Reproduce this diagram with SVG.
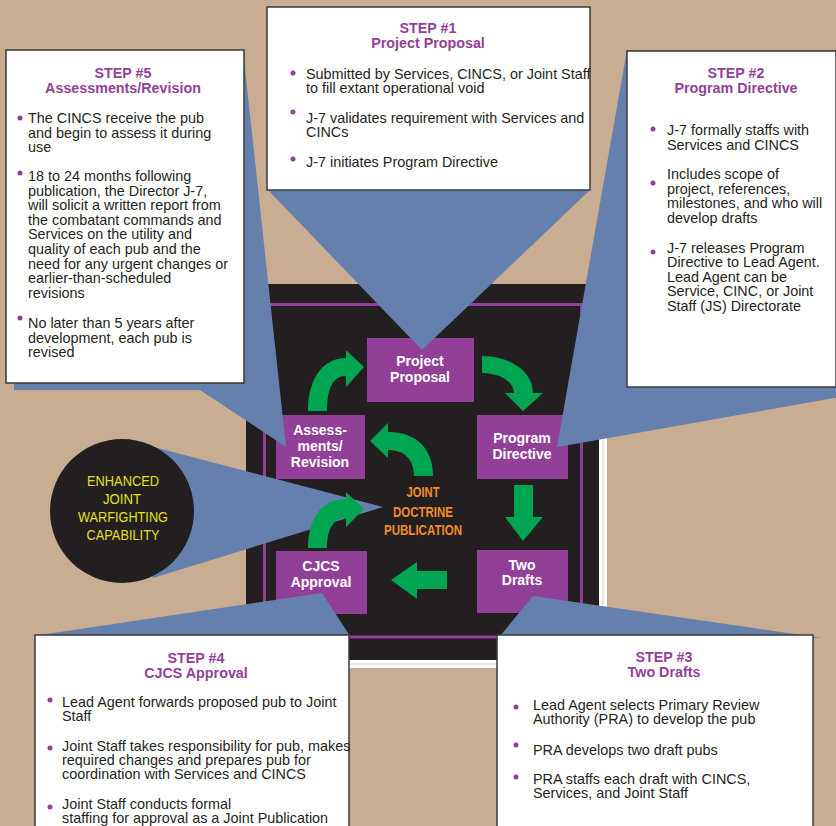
<svg xmlns="http://www.w3.org/2000/svg" width="836" height="826" viewBox="0 0 836 826">
<defs>
<style>
.bg{fill:#c8ad93}
.callout{fill:#6680ad}
.box{fill:#ffffff;stroke:#3a3a3a;stroke-width:1.5}
.node{fill:#923f98}
.ntext{font-family:"Liberation Sans",Arial,sans-serif;font-weight:bold;font-size:14px;fill:#ffffff;text-anchor:middle}
.title{font-family:"Liberation Sans",Arial,sans-serif;font-weight:bold;font-size:14.3px;fill:#923f98;text-anchor:middle}
.body{font-family:"Liberation Sans",Arial,sans-serif;font-size:14.4px;fill:#231f20}
.dot{fill:#923f98}
.arrow{fill:#00a551}
.center{font-family:"Liberation Sans",Arial,sans-serif;font-weight:bold;font-size:15px;fill:#f18b2a;text-anchor:middle}
.yel{font-family:"Liberation Sans",Arial,sans-serif;font-size:14px;fill:#e4e11c;text-anchor:middle}
</style>
</defs>
<rect class="bg" x="0" y="0" width="836" height="826"/>

<g id="frame">
<rect x="599" y="284" width="8" height="384" fill="#ffffff"/>
<line x1="603" y1="284" x2="603" y2="668" stroke="#cfcfcf" stroke-width="1"/>
<rect x="246" y="660" width="361" height="8" fill="#ffffff"/>
<line x1="246" y1="664" x2="607" y2="664" stroke="#cfcfcf" stroke-width="1"/>
<rect x="246" y="284" width="353" height="376" fill="#231f20"/>
<rect x="264.5" y="304.5" width="317" height="332.5" fill="none" stroke="#923f98" stroke-width="3"/>
</g>

<g id="node-project-proposal">
<rect class="node" x="367" y="338" width="107" height="64"/>
<text class="ntext"><tspan x="420" y="366">Project</tspan><tspan x="420" y="382">Proposal</tspan></text>
</g>
<g id="node-program-directive">
<rect class="node" x="477" y="415" width="91" height="64"/>
<text class="ntext"><tspan x="522" y="443">Program</tspan><tspan x="522" y="459">Directive</tspan></text>
</g>
<g id="node-two-drafts">
<rect class="node" x="477" y="550" width="91" height="63"/>
<text class="ntext"><tspan x="522" y="570">Two</tspan><tspan x="522" y="585">Drafts</tspan></text>
</g>
<g id="node-cjcs-approval">
<rect class="node" x="276" y="551" width="91" height="63"/>
<text class="ntext"><tspan x="321" y="571">CJCS</tspan><tspan x="321" y="587">Approval</tspan></text>
</g>
<g id="node-assessments">
<rect class="node" x="276" y="415" width="89" height="64"/>
<text class="ntext"><tspan x="320" y="435">Assess-</tspan><tspan x="320" y="451">ments/</tspan><tspan x="320" y="467">Revision</tspan></text>
</g>

<g id="step1">
<polygon class="callout" points="268,190 590,190 422,350"/>
<rect class="box" x="267" y="7" width="323" height="183"/>
<text class="title"><tspan x="428" y="33">STEP #1</tspan><tspan x="428" y="48">Project Proposal</tspan></text>
<circle class="dot" cx="293" cy="73" r="2.5"/>
<circle class="dot" cx="293" cy="112" r="2.5"/>
<circle class="dot" cx="293" cy="159" r="2.5"/>
<text class="body"><tspan x="306" y="79">Submitted by Services, CINCS, or Joint Staff</tspan><tspan x="306" y="93">to fill extant operational void</tspan><tspan x="306" y="123">J-7 validates requirement with Services and</tspan><tspan x="306" y="137">CINCs</tspan><tspan x="306" y="167">J-7 initiates Program Directive</tspan></text>
</g>

<g id="step2">
<polygon class="callout" points="627,50 557,447 620,436 840,397 840,50"/>
<rect class="box" x="627" y="51" width="209" height="336"/>
<text class="title"><tspan x="736" y="78">STEP #2</tspan><tspan x="736" y="93">Program Directive</tspan></text>
<circle class="dot" cx="653" cy="129" r="2.5"/>
<circle class="dot" cx="653" cy="183" r="2.5"/>
<circle class="dot" cx="653" cy="252" r="2.5"/>
<text class="body"><tspan x="667" y="135">J-7 formally staffs with</tspan><tspan x="667" y="150">Services and CINCS</tspan><tspan x="667" y="179">Includes scope of</tspan><tspan x="667" y="194">project, references,</tspan><tspan x="667" y="208">milestones, and who will</tspan><tspan x="667" y="223">develop drafts</tspan><tspan x="667" y="253">J-7 releases Program</tspan><tspan x="667" y="267">Directive to Lead Agent.</tspan><tspan x="667" y="282">Lead Agent can be</tspan><tspan x="667" y="296">Service, CINC, or Joint</tspan><tspan x="667" y="311">Staff (JS) Directorate</tspan></text>
</g>

<g id="step5">
<polygon class="callout" points="243,50 286,447 200,390 14,390 14,383 243,383"/>
<rect class="box" x="6" y="50" width="238" height="333"/>
<text class="title"><tspan x="123" y="78">STEP #5</tspan><tspan x="123" y="93">Assessments/Revision</tspan></text>
<circle class="dot" cx="20" cy="118" r="2.5"/>
<circle class="dot" cx="20" cy="173" r="2.5"/>
<circle class="dot" cx="20" cy="318" r="2.5"/>
<text class="body"><tspan x="28" y="123">The CINCS receive the pub</tspan><tspan x="28" y="137.5">and begin to assess it during</tspan><tspan x="28" y="152">use</tspan><tspan x="28" y="181">18 to 24 months following</tspan><tspan x="28" y="195.6">publication, the Director J-7,</tspan><tspan x="28" y="210.2">will solicit a written report from</tspan><tspan x="28" y="224.8">the combatant commands and</tspan><tspan x="28" y="239.4">Services on the utility and</tspan><tspan x="28" y="254">quality of each pub and the</tspan><tspan x="28" y="268.6">need for any urgent changes or</tspan><tspan x="28" y="283.2">earlier-than-scheduled</tspan><tspan x="28" y="297.8">revisions</tspan><tspan x="28" y="328">No later than 5 years after</tspan><tspan x="28" y="342.5">development, each pub is</tspan><tspan x="28" y="357">revised</tspan></text>
</g>

<g id="step4">
<polygon class="callout" points="33,636 322,593 350,636"/>
<rect class="box" x="35" y="635" width="314" height="200"/>
<text class="title"><tspan x="196" y="663">STEP #4</tspan><tspan x="196" y="678">CJCS Approval</tspan></text>
<circle class="dot" cx="50" cy="700" r="2.5"/>
<circle class="dot" cx="50" cy="748" r="2.5"/>
<circle class="dot" cx="50" cy="807" r="2.5"/>
<text class="body"><tspan x="62" y="707">Lead Agent forwards proposed pub to Joint</tspan><tspan x="62" y="721">Staff</tspan><tspan x="62" y="751">Joint Staff takes responsibility for pub, makes</tspan><tspan x="62" y="765">required changes and prepares pub for</tspan><tspan x="62" y="779">coordination with Services and CINCS</tspan><tspan x="62" y="809">Joint Staff conducts formal</tspan><tspan x="62" y="823">staffing for approval as a Joint Publication</tspan></text>
</g>

<g id="step3">
<polygon class="callout" points="500,636 533,596 822,638"/>
<rect class="box" x="497" y="635" width="316" height="200"/>
<text class="title"><tspan x="664" y="662">STEP #3</tspan><tspan x="664" y="677">Two Drafts</tspan></text>
<circle class="dot" cx="516" cy="707" r="2.5"/>
<circle class="dot" cx="516" cy="745" r="2.5"/>
<circle class="dot" cx="516" cy="777" r="2.5"/>
<text class="body"><tspan x="533" y="710">Lead Agent selects Primary Review</tspan><tspan x="533" y="724">Authority (PRA) to develop the pub</tspan><tspan x="533" y="755">PRA develops two draft pubs</tspan><tspan x="533" y="784">PRA staffs each draft with CINCS,</tspan><tspan x="533" y="798">Services, and Joint Staff</tspan></text>
</g>

<g id="capability">
<polygon class="callout" points="150,446 383,507 153,578 122,511"/>
<circle cx="122" cy="511" r="72" fill="#231f20"/>
<text class="yel"><tspan x="123" y="486" textLength="72" lengthAdjust="spacingAndGlyphs">ENHANCED</tspan><tspan x="122" y="504" textLength="38" lengthAdjust="spacingAndGlyphs">JOINT</tspan><tspan x="123" y="522" textLength="90" lengthAdjust="spacingAndGlyphs">WARFIGHTING</tspan><tspan x="123" y="540" textLength="73" lengthAdjust="spacingAndGlyphs">CAPABILITY</tspan></text>
</g>

<g id="center-label">
<text class="center"><tspan x="423" y="497" textLength="33" lengthAdjust="spacingAndGlyphs">JOINT</tspan><tspan x="423" y="517" textLength="60" lengthAdjust="spacingAndGlyphs">DOCTRINE</tspan><tspan x="423" y="535" textLength="78" lengthAdjust="spacingAndGlyphs">PUBLICATION</tspan></text>
</g>

<g id="connectors">
<path class="arrow" d="M482,356 C508,356 533,370 533,393 L543,393 L523,411 L505,393 L514,393 C514,382 500,373 482,373 Z"/>
<path class="arrow" d="M514,485 L533,485 L533,517 L543,517 L523,541 L505,517 L514,517 Z"/>
<path class="arrow" d="M447,571 L447,589 L417,589 L417,599 L391,580 L417,562 L417,571 Z"/>
<path class="arrow" d="M308,548 C308,518 322,499 346,499 L346,492 L364,509 L346,527 L346,518 C333,518 327,530 327,548 Z"/>
<path class="arrow" d="M308,411 C308,380 322,358 346,358 L346,350 L364,367 L346,387 L346,376 C333,376 327,388 327,411 Z"/>
<path class="arrow" d="M433,476 C433,450 418,432 388,432 L388,423 L370,441 L388,458 L388,450 C404,450 414,459 414,476 Z"/>
</g>
</svg>
